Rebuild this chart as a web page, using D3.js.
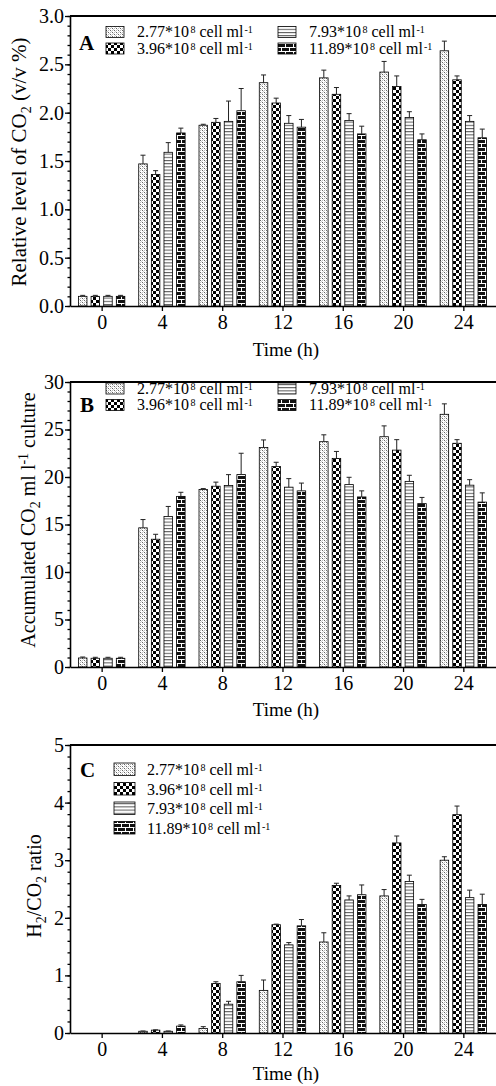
<!DOCTYPE html>
<html>
<head>
<meta charset="utf-8">
<script src="https://cdn.jsdelivr.net/npm/d3@7"></script>
<style>
  body { margin: 0; background: #fff; }
  svg text { font-family: "Liberation Serif", "Times New Roman", serif; fill: #000; }
</style>
</head>
<body>
<svg id="chart" width="496" height="1086"></svg>
<script>
// sampling times (h) and cell densities (*10^8 cell ml-1)
var times = [0, 4, 8, 12, 16, 20, 24];
var densities = ["2.77", "3.96", "7.93", "11.89"];

// A: relative level of CO2 (v/v %), one row per density
var relCO2 = [
  [0.10, 1.47, 1.87, 2.31, 2.36, 2.42, 2.64],
  [0.10, 1.36, 1.90, 2.10, 2.19, 2.27, 2.34],
  [0.10, 1.59, 1.91, 1.89, 1.92, 1.95, 1.91],
  [0.10, 1.79, 2.02, 1.85, 1.78, 1.72, 1.74]
];
var relCO2Err = [
  [0.01, 0.09, 0.01, 0.08, 0.08, 0.11, 0.10],
  [0.01, 0.04, 0.04, 0.05, 0.07, 0.11, 0.04],
  [0.01, 0.10, 0.21, 0.08, 0.07, 0.06, 0.06],
  [0.01, 0.05, 0.23, 0.08, 0.08, 0.06, 0.09]
];

// B: accumulated CO2 (ml l-1 culture)
var accCO2 = [
  [0.95, 14.65, 18.68, 23.10, 23.72, 24.24, 26.60],
  [0.92, 13.45, 19.03, 21.10, 21.96, 22.83, 23.55],
  [0.92, 15.85, 19.10, 18.93, 19.20, 19.54, 19.14],
  [0.92, 17.96, 20.25, 18.54, 17.90, 17.20, 17.36]
];
var accCO2Err = [
  [0.10, 0.87, 0.10, 0.80, 0.72, 1.14, 1.10],
  [0.10, 0.52, 0.43, 0.45, 0.73, 1.10, 0.38],
  [0.10, 1.05, 1.15, 0.90, 0.77, 0.64, 0.58],
  [0.10, 0.43, 2.25, 0.82, 0.64, 0.65, 0.97]
];

// C: H2/CO2 ratio
var ratio = [
  [0, 0.03, 0.08, 0.74, 1.58, 2.38, 3.00],
  [0, 0.05, 0.86, 1.88, 2.56, 3.30, 3.79],
  [0, 0.03, 0.50, 1.53, 2.31, 2.63, 2.35],
  [0, 0.12, 0.89, 1.86, 2.40, 2.23, 2.23]
];
var ratioErr = [
  [0, 0.005, 0.03, 0.18, 0.16, 0.11, 0.06],
  [0, 0.005, 0.03, 0.01, 0.04, 0.12, 0.15],
  [0, 0.005, 0.05, 0.04, 0.07, 0.11, 0.13],
  [0, 0.02, 0.11, 0.11, 0.17, 0.09, 0.18]
];

var yTicksA = [0, 0.5, 1.0, 1.5, 2.0, 2.5, 3.0];
var yTicksB = [0, 5, 10, 15, 20, 25, 30];
var yTicksC = [0, 1, 2, 3, 4, 5];

var svg = d3.select("#chart");
var axisX0 = 70;

// shared time axis (right end is cut off by the page like in the figure)
var x = d3.scaleLinear().domain([-2.1, 26.5]).range([axisX0, 501]);
var sub = d3.scaleBand().domain(d3.range(densities.length))
  .range([-23.2, 23.2]).paddingInner(0.325);

// fill patterns
var defs = svg.append("defs");
var pDots = defs.append("pattern").attr("id", "pDots")
  .attr("patternUnits", "userSpaceOnUse").attr("width", 4).attr("height", 4);
pDots.append("rect").attr("width", 4).attr("height", 4).attr("fill", "#fff");
[[0, 0, "#666"], [2, 2, "#666"], [2, 0, "#bbb"], [0, 2, "#bbb"], [1, 1, "#ccc"], [3, 3, "#ccc"]].forEach(function(p) {
  pDots.append("rect").attr("x", p[0]).attr("y", p[1]).attr("width", 1).attr("height", 1).attr("fill", p[2]);
});

var pCheck = defs.append("pattern").attr("id", "pCheck")
  .attr("patternUnits", "userSpaceOnUse").attr("width", 6).attr("height", 6);
pCheck.append("rect").attr("width", 6).attr("height", 6).attr("fill", "#fff");
pCheck.append("rect").attr("width", 3).attr("height", 3).attr("fill", "#000");
pCheck.append("rect").attr("x", 3).attr("y", 3).attr("width", 3).attr("height", 3).attr("fill", "#000");

var pLines = defs.append("pattern").attr("id", "pLines")
  .attr("patternUnits", "userSpaceOnUse").attr("width", 4).attr("height", 3.2);
pLines.append("rect").attr("width", 4).attr("height", 3.2).attr("fill", "#fff");
pLines.append("rect").attr("width", 4).attr("height", 1).attr("fill", "#555");

var pBrick = defs.append("pattern").attr("id", "pBrick")
  .attr("patternUnits", "userSpaceOnUse").attr("width", 8).attr("height", 8);
pBrick.append("rect").attr("width", 8).attr("height", 8).attr("fill", "#111");
pBrick.append("rect").attr("y", 3).attr("width", 8).attr("height", 1).attr("fill", "#fff");
pBrick.append("rect").attr("y", 7).attr("width", 8).attr("height", 1).attr("fill", "#fff");
pBrick.append("rect").attr("x", 1).attr("width", 1).attr("height", 3).attr("fill", "#fff");
pBrick.append("rect").attr("x", 5).attr("y", 4).attr("width", 1).attr("height", 3).attr("fill", "#fff");

var fills = ["url(#pDots)", "url(#pCheck)", "url(#pLines)", "url(#pBrick)"];

function legendLabel(t, name, supSize) {
  t.append("tspan").text(name + "*10");
  t.append("tspan").attr("dx", 1.5).attr("dy", -4).attr("font-size", supSize).text("8");
  t.append("tspan").attr("dy", 4).text(" cell ml");
  t.append("tspan").attr("dx", 1).attr("dy", -4).attr("font-size", supSize).text("-1");
}

function drawPanel(cfg) {
  var g = svg.append("g");
  var y = d3.scaleLinear().domain([0, cfg.ticks[cfg.ticks.length - 1]]).range(cfg.range);

  // bars
  cfg.values.forEach(function(vals, si) {
    var rows = times.map(function(t, i) { return {t: t, v: vals[i], e: cfg.errors[si][i]}; });

    g.selectAll(null).data(rows).enter().append("rect")
      .attr("x", function(d) { return x(d.t) + sub(si); })
      .attr("y", function(d) { return y(d.v); })
      .attr("width", sub.bandwidth())
      .attr("height", function(d) { return y(0) - y(d.v); })
      .attr("fill", fills[si])
      .attr("stroke", "#000")
      .attr("stroke-width", 0.8);

    // upper error bars only
    var eb = g.selectAll(null).data(rows.filter(function(d) { return d.v > 0; })).enter().append("g")
      .attr("stroke", "#222").attr("stroke-width", 1);
    eb.append("line")
      .attr("x1", function(d) { return x(d.t) + sub(si) + sub.bandwidth() / 2; })
      .attr("x2", function(d) { return x(d.t) + sub(si) + sub.bandwidth() / 2; })
      .attr("y1", function(d) { return y(d.v); })
      .attr("y2", function(d) { return y(d.v + d.e); });
    eb.append("line")
      .attr("x1", function(d) { return x(d.t) + sub(si) + sub.bandwidth() / 2 - 2.5; })
      .attr("x2", function(d) { return x(d.t) + sub(si) + sub.bandwidth() / 2 + 2.5; })
      .attr("y1", function(d) { return y(d.v + d.e); })
      .attr("y2", function(d) { return y(d.v + d.e); });
  });

  // y axis, major + minor ticks
  var ya = g.append("g").attr("transform", "translate(" + axisX0 + ",0)")
    .call(d3.axisLeft(y).tickValues(cfg.ticks).tickFormat(d3.format(cfg.fmt))
      .tickSize(5).tickSizeOuter(0).tickPadding(1));
  var step = (cfg.ticks[1] - cfg.ticks[0]) / 5;
  var minors = d3.range(0, cfg.ticks[cfg.ticks.length - 1] + step / 2, step);
  g.append("g").attr("transform", "translate(" + axisX0 + ",0)")
    .call(d3.axisLeft(y).tickValues(minors).tickFormat("").tickSize(2.5).tickSizeOuter(0))
    .select(".domain").remove();

  var xa = g.append("g").attr("transform", "translate(0," + y(0) + ")")
    .call(d3.axisBottom(x).tickValues(times).tickSize(5).tickSizeOuter(0).tickPadding(4));

  [ya, xa].forEach(function(a) {
    a.attr("font-family", null).attr("font-size", "20px");
    a.select(".domain").attr("stroke-width", 1.6);
  });
  g.selectAll(".tick line").attr("stroke-width", 1.3);

  // frame top line
  g.append("line").attr("x1", axisX0).attr("x2", 496)
    .attr("y1", y.range()[1]).attr("y2", y.range()[1])
    .attr("stroke", "#000").attr("stroke-width", 1.8);

  // x title
  g.append("text").attr("x", 286).attr("y", y(0) + cfg.xTitleDy)
    .attr("text-anchor", "middle").attr("font-size", "19px").text("Time (h)");

  // y title
  var yt = g.append("text")
    .attr("transform", "translate(" + cfg.titleX + "," + cfg.titleY + ") rotate(-90)")
    .attr("text-anchor", "middle").attr("font-size", cfg.titleFont);
  cfg.title.forEach(function(p) {
    yt.append("tspan").attr("dy", p[1]).attr("font-size", p[2] || null).text(p[0]);
  });

  // panel letter
  g.append("text").attr("x", cfg.letterX).attr("y", cfg.letterY)
    .attr("font-size", "21px").attr("font-weight", "bold").text(cfg.letter);

  // legend
  cfg.legend.forEach(function(L, si) {
    g.append("rect").attr("x", L[0]).attr("y", L[1])
      .attr("width", cfg.sw[0]).attr("height", cfg.sw[1])
      .attr("fill", fills[si]).attr("stroke", "#000").attr("stroke-width", 0.8);
    var t = g.append("text").attr("x", L[0] + cfg.sw[0] + cfg.gap).attr("y", L[1] + cfg.sw[1] - 0.5)
      .attr("font-size", cfg.legendFont);
    legendLabel(t, densities[si], "10px");
  });
}

drawPanel({
  letter: "A", letterX: 79, letterY: 50,
  range: [306, 16], ticks: yTicksA, fmt: ".1f",
  values: relCO2, errors: relCO2Err, xTitleDy: 50,
  titleX: 26, titleY: 162, titleFont: "21px",
  title: [["Relative level of CO", 0], ["2", 5, "14px"], [" (v/v %)", -5]],
  sw: [18, 11], gap: 13, legendFont: "16px",
  legend: [[106, 26.5], [106, 43], [278, 26.5], [278, 43]]
});

drawPanel({
  letter: "B", letterX: 80, letterY: 412,
  range: [667, 382], ticks: yTicksB, fmt: "d",
  values: accCO2, errors: accCO2Err, xTitleDy: 49,
  titleX: 35, titleY: 520, titleFont: "20px",
  title: [["Accumulated CO", 0], ["2", 5, "14px"], [" ml l", -5], ["-1", -7, "14px"], [" culture", 7]],
  sw: [18, 11], gap: 13, legendFont: "16px",
  legend: [[106, 383], [106, 399.5], [278, 383], [278, 399.5]]
});

drawPanel({
  letter: "C", letterX: 80, letterY: 777,
  range: [1033, 745], ticks: yTicksC, fmt: "d",
  values: ratio, errors: ratioErr, xTitleDy: 47,
  titleX: 41, titleY: 886, titleFont: "20px",
  title: [["H", 0], ["2", 5, "14px"], ["/CO", -5], ["2", 5, "14px"], [" ratio", -5]],
  sw: [21, 12.5], gap: 12, legendFont: "16px",
  legend: [[114, 763], [114, 782.5], [114, 802], [114, 821.5]]
});
</script>
</body>
</html>
